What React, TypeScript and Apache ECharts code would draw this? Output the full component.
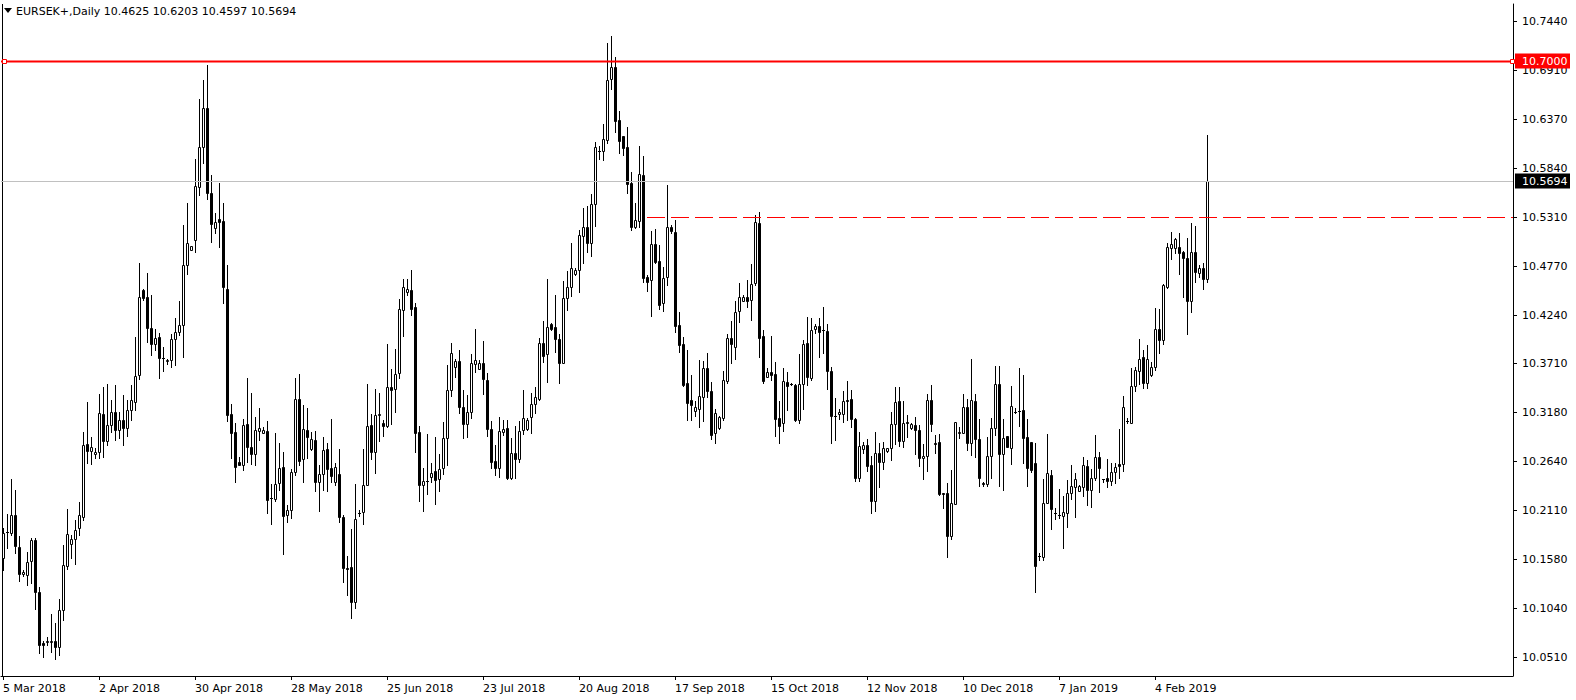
import React, { useEffect, useRef } from 'react';
import * as echarts from 'echarts';

const symbolTitle = 'EURSEK+,Daily 10.4625 10.6203 10.4597 10.5694';

const opens = [
10.1588,10.1871,10.1860,10.2057,10.1708,10.1413,10.1403,10.1555,10.1784,10.1217,
10.0662,10.0672,10.0672,10.0683,10.0618,10.1021,10.1501,10.1741,10.1795,10.1915,
10.2035,10.2830,10.2754,10.2721,10.2743,10.3157,10.2863,10.3038,10.3179,10.2983,
10.3092,10.3005,10.3201,10.3288,10.3583,10.4509,10.4433,10.4095,10.3920,10.3997,
10.3768,10.3735,10.3746,10.3975,10.4051,10.4127,10.4782,10.4945,10.5054,10.5632,
10.6068,10.6493,10.5566,10.5185,10.5283,10.5261,10.4520,10.3157,10.2961,10.2634,
10.2601,10.3049,10.2798,10.2721,10.2972,10.2950,10.2972,10.2242,10.2231,10.2405,
10.2580,10.2057,10.2111,10.2525,10.3321,10.2667,10.2983,10.2776,10.2874,10.2416,
10.2503,10.2776,10.2569,10.2416,10.2503,10.2035,10.1479,10.1490,10.1108,10.2078,
10.2089,10.2384,10.3038,10.2743,10.3147,10.3059,10.3027,10.3452,10.3430,10.3604,
10.4291,10.4487,10.4509,10.4324,10.2961,10.2384,10.2427,10.2471,10.2536,10.2449,
10.2569,10.2896,10.3419,10.3670,10.3735,10.3234,10.3049,10.3179,10.3702,10.3648,
10.3713,10.3528,10.2994,10.2645,10.2569,10.2961,10.3005,10.2460,10.2732,10.2667,
10.2983,10.2994,10.3125,10.3266,10.3321,10.3931,10.3812,10.4138,10.4106,10.3975,
10.3713,10.4422,10.4542,10.4683,10.4727,10.5098,10.5196,10.5021,10.5446,10.6024,
10.6024,10.6144,10.6809,10.6940,10.6362,10.6188,10.6068,10.5675,10.5196,10.5261,
10.5763,10.4651,10.4618,10.5010,10.4825,10.4367,10.4651,10.5196,10.5141,10.4127,
10.3920,10.3496,10.3310,10.3190,10.3212,10.3343,10.3659,10.3408,10.2950,10.3005,
10.3114,10.3517,10.3986,10.3888,10.4280,10.4389,10.4433,10.4400,10.4585,10.5239,
10.4008,10.3561,10.3615,10.3594,10.3114,10.3059,10.3506,10.3486,10.3474,10.3092,
10.3484,10.3931,10.3550,10.4084,10.4117,10.4073,10.4062,10.3626,10.3136,10.3157,
10.3157,10.3310,10.3321,10.3103,10.2460,10.2776,10.2820,10.2601,10.2209,10.2732,
10.2634,10.2754,10.2787,10.3049,10.3299,10.2863,10.3070,10.3005,10.3038,10.2983,
10.2678,10.2700,10.3310,10.2841,10.2852,10.2296,10.2296,10.1828,10.2176,10.2950,
10.2950,10.3234,10.2841,10.3299,10.2885,10.2405,10.2394,10.2700,10.3005,10.3484,
10.2721,10.2918,10.2787,10.3179,10.3190,10.3201,10.2907,10.2852,10.2623,10.1610,
10.1599,10.2187,10.2493,10.2078,10.2057,10.2046,10.2078,10.2296,10.2362,10.2318,
10.2362,10.2591,10.2329,10.2460,10.2689,10.2449,10.2460,10.2427,10.2525,10.2612,
10.2612,10.3081,10.3059,10.3463,10.3626,10.3779,10.3495,10.3583,10.3670,10.4084,
10.3964,10.4542,10.4967,10.4967,10.4978,10.4923,10.4858,10.4389,10.4923,10.4694,
10.4749,10.4625
];

const highs = [
10.1915,10.2067,10.2449,10.2329,10.1828,10.1457,10.1653,10.1806,10.1806,10.1272,
10.0683,10.0727,10.0977,10.0879,10.1141,10.1730,10.2122,10.1838,10.2002,10.2198,
10.2961,10.3288,10.2907,10.2787,10.3375,10.3452,10.3484,10.3310,10.3474,10.3179,
10.3365,10.3310,10.3474,10.3997,10.4803,10.4520,10.4694,10.4454,10.4084,10.4040,
10.3888,10.3757,10.4029,10.4204,10.4389,10.5218,10.5457,10.4989,10.5937,10.6591,
10.6798,10.6962,10.5763,10.5348,10.5675,10.5457,10.4782,10.3266,10.3059,10.2689,
10.3103,10.3550,10.3386,10.3125,10.3223,10.3016,10.3081,10.2394,10.2950,10.2841,
10.2743,10.2166,10.2558,10.3550,10.3594,10.3256,10.3223,10.2961,10.2972,10.2601,
10.2907,10.2841,10.3103,10.2623,10.2776,10.2057,10.1610,10.1904,10.2394,10.2111,
10.2776,10.3484,10.3157,10.3430,10.3386,10.3092,10.3920,10.3648,10.3866,10.4411,
10.4629,10.4629,10.4727,10.4367,10.3027,10.2569,10.2939,10.2623,10.2907,10.2721,
10.3070,10.3692,10.3931,10.3757,10.3855,10.3419,10.3365,10.3811,10.4084,10.3746,
10.3953,10.3604,10.3081,10.2820,10.3125,10.3092,10.3092,10.2896,10.3027,10.3081,
10.3419,10.3114,10.3386,10.3452,10.3986,10.4171,10.4629,10.4149,10.4454,10.4029,
10.4607,10.4716,10.5021,10.4749,10.5163,10.5403,10.5425,10.5555,10.6122,10.6079,
10.6318,10.7201,10.7278,10.7049,10.6460,10.6188,10.6286,10.5795,10.5457,10.6079,
10.5970,10.4672,10.5152,10.5174,10.4999,10.4760,10.5654,10.5218,10.5272,10.4269,
10.3997,10.3855,10.3583,10.3299,10.3746,10.3735,10.3822,10.3506,10.3212,10.3136,
10.3626,10.4029,10.4171,10.4389,10.4585,10.4454,10.4618,10.4792,10.5327,10.5359,
10.4073,10.3659,10.4008,10.3724,10.3299,10.3659,10.3615,10.3495,10.3484,10.3811,
10.3964,10.4215,10.4204,10.4138,10.4204,10.4324,10.4138,10.3670,10.3332,10.3212,
10.3408,10.3517,10.3419,10.3114,10.2961,10.2852,10.2885,10.2700,10.2961,10.2841,
10.2852,10.2787,10.3179,10.3452,10.3452,10.3299,10.3147,10.3059,10.3125,10.3038,
10.2830,10.3375,10.3474,10.2928,10.2939,10.2296,10.2405,10.2547,10.3070,10.3016,
10.3375,10.3321,10.3757,10.3375,10.3103,10.2416,10.2907,10.3114,10.3681,10.3681,
10.3103,10.2918,10.3463,10.3223,10.3659,10.3583,10.3103,10.2852,10.2841,10.1642,
10.2449,10.2939,10.2547,10.2133,10.2340,10.2264,10.2438,10.2601,10.2514,10.2384,
10.2689,10.2656,10.2558,10.2928,10.2743,10.2449,10.2667,10.2623,10.2623,10.2994,
10.3354,10.3114,10.3659,10.3670,10.3975,10.3855,10.3910,10.3724,10.4313,10.4302,
10.4574,10.5021,10.5141,10.5076,10.5130,10.4934,10.5076,10.5239,10.5207,10.4781,
10.4803,10.6203
];

const lows = [
10.1457,10.1697,10.1838,10.1642,10.1337,10.1392,10.1294,10.1315,10.1032,10.0553,
10.0509,10.0640,10.0563,10.0487,10.0531,10.0912,10.1468,10.1588,10.1522,10.1838,
10.2002,10.2623,10.2612,10.2678,10.2678,10.2689,10.2820,10.2961,10.2874,10.2896,
10.2820,10.2918,10.3092,10.3201,10.3539,10.4400,10.3942,10.3801,10.3855,10.3550,
10.3626,10.3702,10.3670,10.3692,10.4019,10.3779,10.4683,10.4945,10.4923,10.5545,
10.5893,10.5501,10.5032,10.5130,10.4978,10.4367,10.3081,10.2678,10.2416,10.2601,
10.2547,10.2634,10.2612,10.2601,10.2874,10.2950,10.2078,10.1958,10.2209,10.2329,
10.1631,10.1980,10.2024,10.2493,10.2601,10.2416,10.2678,10.2765,10.2318,10.2100,
10.2329,10.2318,10.2416,10.2384,10.1980,10.1326,10.1184,10.0934,10.1043,10.2046,
10.1958,10.2384,10.2667,10.2514,10.2863,10.2918,10.3016,10.3049,10.3179,10.3550,
10.4008,10.4455,10.4237,10.2743,10.2209,10.2100,10.2285,10.2416,10.2176,10.2318,
10.2503,10.2601,10.3354,10.3561,10.3168,10.2896,10.2907,10.3114,10.3615,10.3648,
10.3375,10.2918,10.2569,10.2493,10.2471,10.2928,10.2449,10.2449,10.2460,10.2634,
10.2939,10.2983,10.2950,10.3168,10.3310,10.3724,10.3506,10.4073,10.3833,10.3495,
10.3713,10.4291,10.4444,10.4672,10.4487,10.4803,10.4923,10.4880,10.5207,10.5937,
10.5926,10.6111,10.6700,10.6231,10.6002,10.5981,10.5566,10.5163,10.5185,10.5196,
10.4596,10.4498,10.4226,10.4803,10.4302,10.4280,10.4564,10.5130,10.4051,10.3833,
10.3463,10.3092,10.3092,10.3136,10.3016,10.3081,10.3343,10.2885,10.2841,10.2994,
10.3092,10.3495,10.3713,10.3757,10.4160,10.4389,10.4324,10.4182,10.4564,10.3779,
10.3495,10.3561,10.3528,10.2918,10.2841,10.2972,10.3201,10.3474,10.3081,10.3059,
10.3212,10.3474,10.3528,10.4040,10.3779,10.3822,10.3430,10.2841,10.2874,10.3103,
10.3070,10.3092,10.3016,10.2427,10.2427,10.2732,10.2536,10.2078,10.2100,10.2362,
10.2558,10.2743,10.2656,10.2830,10.2809,10.2798,10.2907,10.2994,10.2721,10.2591,
10.2449,10.2536,10.2972,10.2732,10.2275,10.2133,10.1599,10.1795,10.2176,10.2896,
10.2950,10.2765,10.2711,10.2689,10.2373,10.2373,10.2373,10.2460,10.2929,10.2373,
10.2329,10.2798,10.2612,10.3168,10.3027,10.2623,10.2373,10.2525,10.1217,10.1566,
10.1566,10.2187,10.1904,10.2013,10.2024,10.1697,10.1926,10.2231,10.2035,10.2318,
10.2264,10.2166,10.2144,10.2438,10.2307,10.2416,10.2362,10.2384,10.2405,10.2460,
10.2536,10.3059,10.3059,10.3408,10.3484,10.3441,10.3441,10.3572,10.3637,10.3822,
10.3920,10.4531,10.4847,10.4912,10.4683,10.4433,10.4029,10.4269,10.4596,10.4651,
10.4520,10.4597
];

const closes = [
10.1860,10.1875,10.2057,10.1719,10.1413,10.1435,10.1544,10.1784,10.1217,10.0640,
10.0640,10.0683,10.0683,10.0618,10.1021,10.1512,10.1849,10.1795,10.1893,10.2057,
10.2820,10.2754,10.2798,10.2743,10.3168,10.2863,10.3038,10.3179,10.2983,10.3092,
10.3005,10.3201,10.3310,10.3572,10.4433,10.4422,10.4095,10.3920,10.3986,10.3768,
10.3772,10.3746,10.3975,10.4051,10.4127,10.4782,10.5021,10.4989,10.5643,10.6068,
10.6493,10.5566,10.5228,10.5250,10.5250,10.4542,10.3147,10.2950,10.2580,10.2601,
10.3038,10.2798,10.2721,10.2983,10.3005,10.2983,10.2220,10.2238,10.2394,10.2569,
10.2046,10.2111,10.2525,10.3321,10.2645,10.2994,10.2907,10.2885,10.2416,10.2503,
10.2765,10.2558,10.2482,10.2580,10.2035,10.1479,10.1468,10.1108,10.2013,10.2082,
10.2384,10.3027,10.2743,10.3147,10.3157,10.3027,10.3452,10.3419,10.3594,10.4302,
10.4542,10.4520,10.4302,10.2950,10.2384,10.2427,10.2431,10.2514,10.2438,10.2558,
10.2896,10.3419,10.3822,10.3735,10.3234,10.3049,10.3179,10.3713,10.3746,10.3713,
10.3539,10.2994,10.2634,10.2569,10.2972,10.2994,10.2460,10.2732,10.2667,10.2972,
10.3114,10.3092,10.3266,10.3343,10.3931,10.3790,10.4106,10.4084,10.3975,10.3713,
10.4422,10.4542,10.4749,10.4727,10.5108,10.5196,10.5021,10.5446,10.6068,10.6028,
10.6155,10.6798,10.6940,10.6351,10.6133,10.6057,10.5664,10.5196,10.5272,10.5774,
10.4640,10.4596,10.5010,10.4814,10.4346,10.4640,10.5196,10.5152,10.4117,10.3910,
10.3474,10.3277,10.3256,10.3234,10.3354,10.3659,10.3408,10.2929,10.3168,10.3125,
10.3528,10.3986,10.3920,10.4269,10.4433,10.4433,10.4389,10.4574,10.5250,10.3986,
10.3517,10.3615,10.3583,10.3103,10.3027,10.3517,10.3463,10.3482,10.3092,10.3484,
10.3920,10.3561,10.4073,10.4117,10.4051,10.4069,10.3626,10.3136,10.3132,10.3179,
10.3299,10.3299,10.3103,10.2460,10.2809,10.2820,10.2591,10.2209,10.2732,10.2634,
10.2787,10.2787,10.3049,10.3288,10.2863,10.3059,10.3059,10.3049,10.2983,10.2678,
10.2700,10.3310,10.3049,10.2830,10.2286,10.2286,10.1828,10.2187,10.3070,10.2961,
10.3234,10.2841,10.3310,10.2885,10.2460,10.2394,10.2700,10.3005,10.3484,10.2721,
10.2896,10.2798,10.3245,10.3183,10.3186,10.2896,10.2569,10.2547,10.1501,10.1614,
10.2187,10.2514,10.2122,10.2074,10.2061,10.2089,10.2296,10.2373,10.2449,10.2373,
10.2601,10.2329,10.2460,10.2689,10.2569,10.2445,10.2427,10.2525,10.2580,10.2591,
10.3234,10.3077,10.3463,10.3637,10.3757,10.3495,10.3757,10.3670,10.4084,10.3964,
10.4564,10.4978,10.5010,10.5065,10.4912,10.4858,10.4389,10.4923,10.4705,10.4749,
10.4629,10.5694
];

// date tick labels, one every 24 bars (weeks of 6 bars)
const xTickLabels = [
  '5 Mar 2018', '2 Apr 2018', '30 Apr 2018', '28 May 2018', '25 Jun 2018', '23 Jul 2018',
  '20 Aug 2018', '17 Sep 2018', '15 Oct 2018', '12 Nov 2018', '10 Dec 2018', '7 Jan 2019', '4 Feb 2019'
];
const barsPerTick = 24;
const totalSlots = 378;

const yTickValues = [10.744, 10.691, 10.637, 10.584, 10.531, 10.477, 10.424, 10.371, 10.318, 10.264, 10.211, 10.158, 10.104, 10.051];
const yTickLabels = ['10.7440', '10.6910', '10.6370', '10.5840', '10.5310', '10.4770', '10.4240', '10.3710', '10.3180', '10.2640', '10.2110', '10.1580', '10.1040', '10.0510'];

const redLevel = 10.7;
const redLevelLabel = '10.7000';
const bidLevel = 10.5694;
const bidLevelLabel = '10.5694';
const dashedLevel = 10.531;
const dashedStartBar = 161;

const yMin = 10.03016;
const yMax = 10.76264;

const MONTHS = ['Jan', 'Feb', 'Mar', 'Apr', 'May', 'Jun', 'Jul', 'Aug', 'Sep', 'Oct', 'Nov', 'Dec'];
function buildCategories(n: number, slots: number): string[] {
  const out: string[] = [];
  const d = new Date(Date.UTC(2018, 2, 5));
  while (out.length < n) {
    if (d.getUTCDay() !== 6) {
      out.push(d.getUTCDate() + ' ' + MONTHS[d.getUTCMonth()] + ' ' + d.getUTCFullYear());
    }
    d.setUTCDate(d.getUTCDate() + 1);
  }
  while (out.length < slots) out.push('');
  return out;
}

const FONT = '"DejaVu Sans", Verdana, sans-serif';

export default function App() {
  const ref = useRef<HTMLDivElement>(null);
  useEffect(() => {
    document.body.style.margin = '0';
    if (!ref.current) return;
    const chart = echarts.init(ref.current, undefined, { renderer: 'svg' });
    const n = opens.length;
    const categories = buildCategories(n, totalSlots);
    const candleData = opens.map((o, i) => [i, o, closes[i], lows[i], highs[i]]);
    const isTick = (idx: number) => idx % barsPerTick === 0 && idx < n;

    const option: any = {
      animation: false,
      backgroundColor: '#ffffff',
      grid: { left: 1, right: 63, top: 4, bottom: 24, containLabel: false },
      xAxis: {
        type: 'category',
        data: categories,
        boundaryGap: true,
        axisLine: { show: true, lineStyle: { color: '#000', width: 1 } },
        axisTick: { show: true, alignWithLabel: true, interval: (i: number) => isTick(i), length: 4, lineStyle: { color: '#000' } },
        axisLabel: {
          show: true,
          interval: (i: number) => isTick(i),
          formatter: (_v: string, i: number) => (isTick(i) ? xTickLabels[i / barsPerTick] : ''),
          color: '#000',
          fontFamily: FONT,
          fontSize: 11,
          align: 'left',
          margin: 7,
        },
        splitLine: { show: false },
      },
      yAxis: {
        type: 'value',
        position: 'right',
        min: yMin,
        max: yMax,
        scale: true,
        axisLine: { show: true, lineStyle: { color: '#000', width: 1 } },
        axisTick: { show: false },
        axisLabel: { show: false },
        splitLine: { show: false },
      },
      series: [
        {
          type: 'custom',
          name: 'EURSEK+',
          z: 2,
          silent: true,
          data: candleData,
          encode: { x: 0, y: [1, 2, 3, 4] },
          renderItem: (params: any, api: any) => {
            const idx = api.value(0);
            const o = api.value(1);
            const c = api.value(2);
            const l = api.value(3);
            const h = api.value(4);
            const cx = Math.round(api.coord([idx, o])[0]);
            const yo = Math.round(api.coord([idx, o])[1]);
            const yc = Math.round(api.coord([idx, c])[1]);
            const yl = Math.round(api.coord([idx, l])[1]);
            const yh = Math.round(api.coord([idx, h])[1]);
            const bull = c >= o;
            const top = Math.min(yo, yc);
            const bot = Math.max(yo, yc);
            const children: any[] = [
              { type: 'line', shape: { x1: cx + 0.5, y1: yh, x2: cx + 0.5, y2: yl + 1 }, style: { stroke: '#000', lineWidth: 1 } },
            ];
            if (bot - top < 1) {
              children.push({ type: 'line', shape: { x1: cx - 1, y1: top + 0.5, x2: cx + 2, y2: top + 0.5 }, style: { stroke: '#000', lineWidth: 1 } });
            } else {
              children.push({
                type: 'rect',
                shape: { x: cx - 0.5, y: top + 0.5, width: 2, height: bot - top },
                style: { fill: bull ? '#ffffff' : '#000000', stroke: '#000000', lineWidth: 1 },
              });
            }
            return { type: 'group', children };
          },
        },
        {
          type: 'custom',
          z: 3,
          silent: true,
          data: yTickValues.map((v) => [0, v]),
          renderItem: (params: any, api: any) => {
            const y = Math.round(api.coord([0, api.value(1)])[1]) + 0.5;
            const cs = params.coordSys;
            const xr = cs.x + cs.width;
            return {
              type: 'group',
              children: [
                { type: 'line', shape: { x1: xr, y1: y, x2: xr + 4, y2: y }, style: { stroke: '#000', lineWidth: 1 } },
                {
                  type: 'text',
                  x: xr + 9,
                  y: y,
                  style: { text: yTickLabels[params.dataIndex], fill: '#000', fontSize: 11, fontFamily: FONT, align: 'left', verticalAlign: 'middle' },
                },
              ],
            };
          },
        },
        {
          type: 'custom',
          z: 5,
          silent: true,
          data: [[0, redLevel], [0, bidLevel], [dashedStartBar, dashedLevel]],
          renderItem: (params: any, api: any) => {
            const cs = params.coordSys;
            const xl = cs.x;
            const xr = cs.x + cs.width;
            const pt = api.coord([api.value(0), api.value(1)]);
            const y = Math.round(pt[1]) + 0.5;
            if (params.dataIndex === 0) {
              return {
                type: 'group',
                children: [
                  { type: 'line', shape: { x1: xl, y1: y, x2: xr, y2: y }, style: { stroke: '#ff0000', lineWidth: 2 } },
                  { type: 'rect', shape: { x: xl + 1.5, y: y - 2, width: 4, height: 4 }, style: { fill: '#fff', stroke: '#ff0000', lineWidth: 1 } },
                  { type: 'rect', shape: { x: xr - 2.5, y: y - 2, width: 4, height: 4 }, style: { fill: '#fff', stroke: '#ff0000', lineWidth: 1 } },
                  { type: 'rect', shape: { x: xr + 2, y: y - 8, width: 55, height: 15 }, style: { fill: '#ff0000' } },
                  { type: 'text', x: xr + 9, y: y, style: { text: redLevelLabel, fill: '#fff', fontSize: 11, fontFamily: FONT, align: 'left', verticalAlign: 'middle' } },
                ],
              };
            }
            if (params.dataIndex === 1) {
              return {
                type: 'group',
                children: [
                  { type: 'line', shape: { x1: xl, y1: y, x2: xr, y2: y }, style: { stroke: '#c0c0c0', lineWidth: 1 } },
                  { type: 'rect', shape: { x: xr + 2, y: y - 8, width: 55, height: 15 }, style: { fill: '#000' } },
                  { type: 'text', x: xr + 9, y: y, style: { text: bidLevelLabel, fill: '#fff', fontSize: 11, fontFamily: FONT, align: 'left', verticalAlign: 'middle' } },
                ],
              };
            }
            return {
              type: 'line',
              shape: { x1: pt[0], y1: y, x2: xr, y2: y },
              style: { stroke: '#ff0000', lineWidth: 1, lineDash: [18, 6] },
            };
          },
        },
      ],
      graphic: [
        { type: 'line', shape: { x1: 2.5, y1: 4, x2: 2.5, y2: 676 }, style: { stroke: '#000', lineWidth: 1 } },
        { type: 'polygon', shape: { points: [[4, 8], [12, 8], [8, 13]] }, style: { fill: '#000' } },
        { type: 'text', left: 16, top: 6, style: { text: symbolTitle, fill: '#000', fontSize: 11, fontFamily: FONT } },
      ],
    };
    chart.setOption(option);
    return () => chart.dispose();
  }, []);
  return <div ref={ref} style={{ width: 1576, height: 700, position: 'absolute', left: 0, top: 0, background: '#fff' }} />;
}
